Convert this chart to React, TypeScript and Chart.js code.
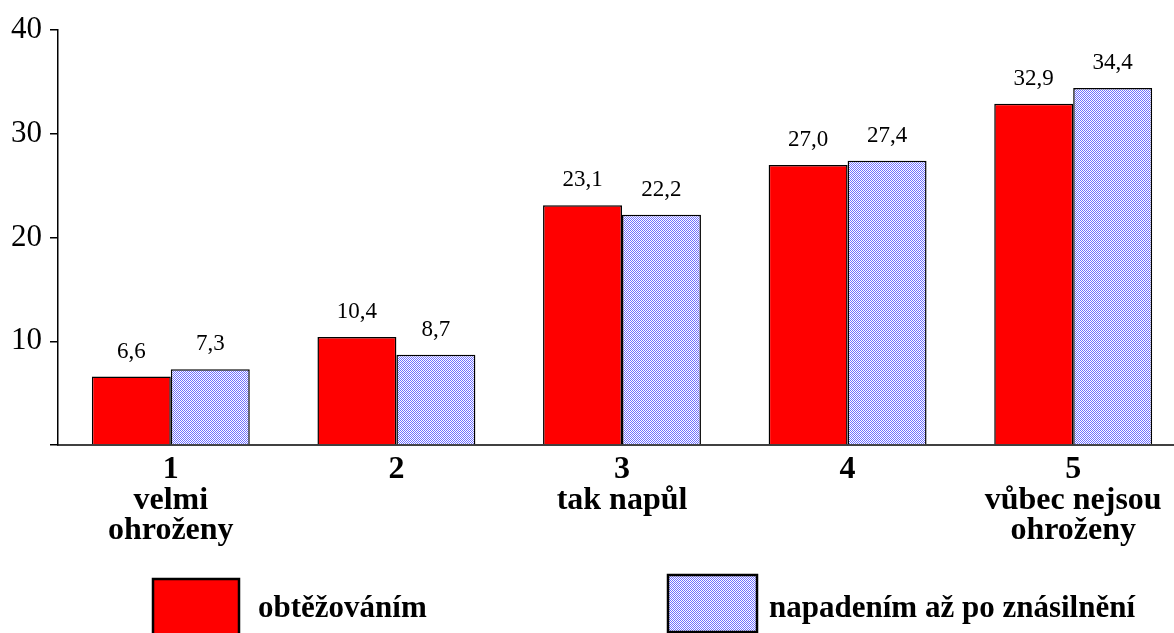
import React, { useEffect, useRef } from 'react';
import { Chart, registerables } from 'chart.js';

Chart.register(...registerables);

const categories: string[][] = [
  ['1', 'velmi', 'ohroženy'],
  ['2'],
  ['3', 'tak napůl'],
  ['4'],
  ['5', 'vůbec nejsou', 'ohroženy'],
];
const seriesNames = ['obtěžováním', 'napadením až po znásilnění'];
const harassment = [6.6, 10.4, 23.1, 27.0, 32.9];
const assault = [7.3, 8.7, 22.2, 27.4, 34.4];
const yTickValues = [0, 10, 20, 30, 40];

const SERIF = '"Liberation Serif", "Times New Roman", serif';

function makePattern(): CanvasPattern | string {
  const c = document.createElement('canvas');
  c.width = 2;
  c.height = 2;
  const g = c.getContext('2d');
  if (!g) return '#b0b0ff';
  g.fillStyle = '#ffffff';
  g.fillRect(0, 0, 2, 2);
  g.fillStyle = '#7070ff';
  g.fillRect(0, 0, 1, 1);
  g.fillRect(1, 1, 1, 1);
  return g.createPattern(c, 'repeat') || '#b0b0ff';
}

const fmt = (v: number) => v.toFixed(1).replace('.', ',');

export default function App() {
  const ref = useRef<HTMLCanvasElement | null>(null);

  useEffect(() => {
    document.body.style.margin = '0';
    document.body.style.overflow = 'hidden';
    const canvas = ref.current;
    if (!canvas) return;
    const pattern = makePattern();
    const fills = ['#ff0000', pattern];

    const valueLabels = {
      id: 'valueLabels',
      afterDatasetsDraw(chart: any) {
        const ctx = chart.ctx;
        ctx.save();
        ctx.fillStyle = '#000';
        ctx.font = `23px ${SERIF}`;
        ctx.textAlign = 'center';
        ctx.textBaseline = 'middle';
        chart.data.datasets.forEach((ds: any, di: number) => {
          const meta = chart.getDatasetMeta(di);
          meta.data.forEach((bar: any, i: number) => {
            ctx.fillText(fmt(ds.data[i]), bar.x, bar.y - 25);
          });
        });
        ctx.restore();
      },
    };

    const customLegend = {
      id: 'customLegend',
      afterDraw(chart: any) {
        const ctx = chart.ctx;
        ctx.save();
        const boxes = [
          { x: 153, y: 579, w: 86, h: 62, tx: 258 },
          { x: 668, y: 575, w: 89, h: 57, tx: 769 },
        ];
        boxes.forEach((b, i) => {
          ctx.fillStyle = fills[i];
          ctx.fillRect(b.x, b.y, b.w, b.h);
          ctx.strokeStyle = '#000';
          ctx.lineWidth = 2.5;
          ctx.strokeRect(b.x, b.y, b.w, b.h);
          ctx.fillStyle = '#000';
          ctx.font = `bold 31px ${SERIF}`;
          ctx.textAlign = 'left';
          ctx.textBaseline = 'alphabetic';
          ctx.fillText(seriesNames[i], b.tx, 617);
        });
        ctx.restore();
      },
    };

    const chart = new Chart(canvas, {
      type: 'bar',
      data: {
        labels: categories,
        datasets: [
          {
            label: seriesNames[0],
            data: harassment,
            backgroundColor: fills[0],
            borderColor: '#000',
            borderWidth: 1.5,
            categoryPercentage: 0.7,
            barPercentage: 1,
          },
          {
            label: seriesNames[1],
            data: assault,
            backgroundColor: fills[1] as any,
            borderColor: '#000',
            borderWidth: 1.5,
            categoryPercentage: 0.7,
            barPercentage: 1,
          },
        ],
      },
      options: {
        animation: false,
        responsive: true,
        maintainAspectRatio: false,
        layout: { padding: { top: 30, right: 0, left: 0, bottom: 0 } },
        plugins: {
          legend: { display: false },
          tooltip: { enabled: false },
        },
        scales: {
          x: {
            grid: { drawOnChartArea: false, drawTicks: false },
            border: { display: true, color: '#404040', width: 2 },
            ticks: {
              color: '#000',
              padding: 10,
              maxRotation: 0,
              autoSkip: false,
              font: { family: SERIF, size: 32, weight: 'bold', lineHeight: 0.95 },
            },
            afterFit(scale: any) {
              scale.height = 633 - 445;
            },
          },
          y: {
            min: 0,
            max: 40,
            afterBuildTicks(scale: any) {
              scale.ticks = yTickValues.map((v) => ({ value: v }));
            },
            grid: { drawOnChartArea: false, drawTicks: true, tickLength: 8, color: '#000', lineWidth: 1.5 },
            border: { display: true, color: '#000', width: 1.5 },
            ticks: {
              color: '#000',
              padding: 8,
              font: { family: SERIF, size: 31 },
              callback: (v: any) => (Number(v) === 0 ? '' : String(v)),
            },
            afterFit(scale: any) {
              scale.width = 58;
            },
          },
        },
      },
      plugins: [valueLabels, customLegend],
    });

    return () => chart.destroy();
  }, []);

  return (
    <div style={{ position: 'fixed', left: 0, top: 0, width: 1186, height: 633 }}>
      <canvas ref={ref} />
    </div>
  );
}
